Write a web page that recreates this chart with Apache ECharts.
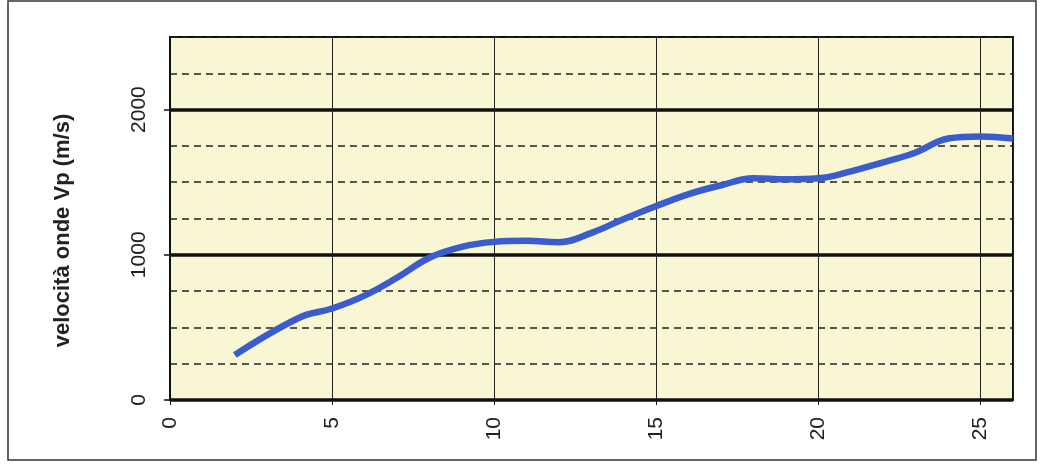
<!DOCTYPE html>
<html>
<head>
<meta charset="utf-8">
<script src="https://cdn.jsdelivr.net/npm/echarts@6/dist/echarts.min.js"></script>
<style>
  html, body { margin: 0; padding: 0; background: #fff; }
  #chart { width: 1040px; height: 472px; }
</style>
</head>
<body>
<div id="chart"></div>
<script>
// profondità (m) e velocità onde Vp (m/s)
const depth = [2, 4, 5, 6, 7, 8, 9, 10, 11, 12, 13, 14, 15, 16, 17, 18, 19, 20, 21, 22, 23, 24, 25, 26];
const vp = [310, 568, 630, 719, 842, 980, 1055, 1089, 1096, 1087, 1151, 1247, 1336, 1418, 1479, 1527, 1520, 1527, 1575, 1637, 1705, 1801, 1815, 1801];
const yMajorTicks = [0, 1000, 2000];

let chartDom = document.getElementById('chart');
let myChart = echarts.init(chartDom);

let points = depth.map(function (d, i) {
    return [d, vp[i]];
});

let option = {
    animation: false,
    textStyle: { fontFamily: 'Liberation Sans, Arial, sans-serif' },
    graphic: [{
        type: 'rect',
        shape: { x: 8, y: 1, width: 1028, height: 459 },
        style: { fill: 'none', stroke: '#333', lineWidth: 1.5 },
        z: 0
    }],
    grid: {
        left: 170,
        right: 27,
        top: 37,
        bottom: 72,
        show: true,
        backgroundColor: '#f9f7d3',
        borderColor: '#111',
        borderWidth: 2
    },
    xAxis: {
        type: 'value',
        min: 0,
        max: 26,
        interval: 5,
        axisLine: { show: true, lineStyle: { color: '#111', width: 2 } },
        axisTick: { show: true, length: 5, lineStyle: { color: '#111', width: 1 } },
        axisLabel: {
            rotate: 90,
            margin: 17,
            fontSize: 21,
            color: '#222',
            showMaxLabel: false
        },
        splitLine: { show: true, lineStyle: { color: '#222', width: 1 } }
    },
    yAxis: [{
        type: 'value',
        min: 0,
        max: 2500,
        interval: 250,
        axisLine: { show: false },
        axisTick: { show: false },
        axisLabel: { show: false },
        splitLine: { show: true, lineStyle: { color: '#222', width: 1.5, type: [7, 5] } }
    }, {
        type: 'value',
        position: 'left',
        min: 0,
        max: 2500,
        interval: 1000,
        name: 'velocità onde Vp (m/s)',
        nameLocation: 'middle',
        nameGap: 96,
        nameTextStyle: {
            fontSize: 22,
            fontWeight: 'bold',
            color: '#222',
            padding: [0, 24, 0, 0]
        },
        axisLine: { show: true, lineStyle: { color: '#111', width: 2 } },
        axisTick: { show: true, length: 6, customValues: yMajorTicks, lineStyle: { color: '#111', width: 1.5 } },
        axisLabel: {
            rotate: 90,
            margin: 20,
            fontSize: 21,
            color: '#222',
            customValues: yMajorTicks,
            formatter: function (v) { return String(v); }
        },
        splitLine: { show: true, lineStyle: { color: '#111', width: 3.5 } }
    }],
    series: [{
        type: 'line',
        yAxisIndex: 1,
        data: points,
        smooth: 0.4,
        showSymbol: false,
        lineStyle: { color: '#3a5ccc', width: 6.5 },
        z: 5
    }]
};

option && myChart.setOption(option);
</script>
</body>
</html>
